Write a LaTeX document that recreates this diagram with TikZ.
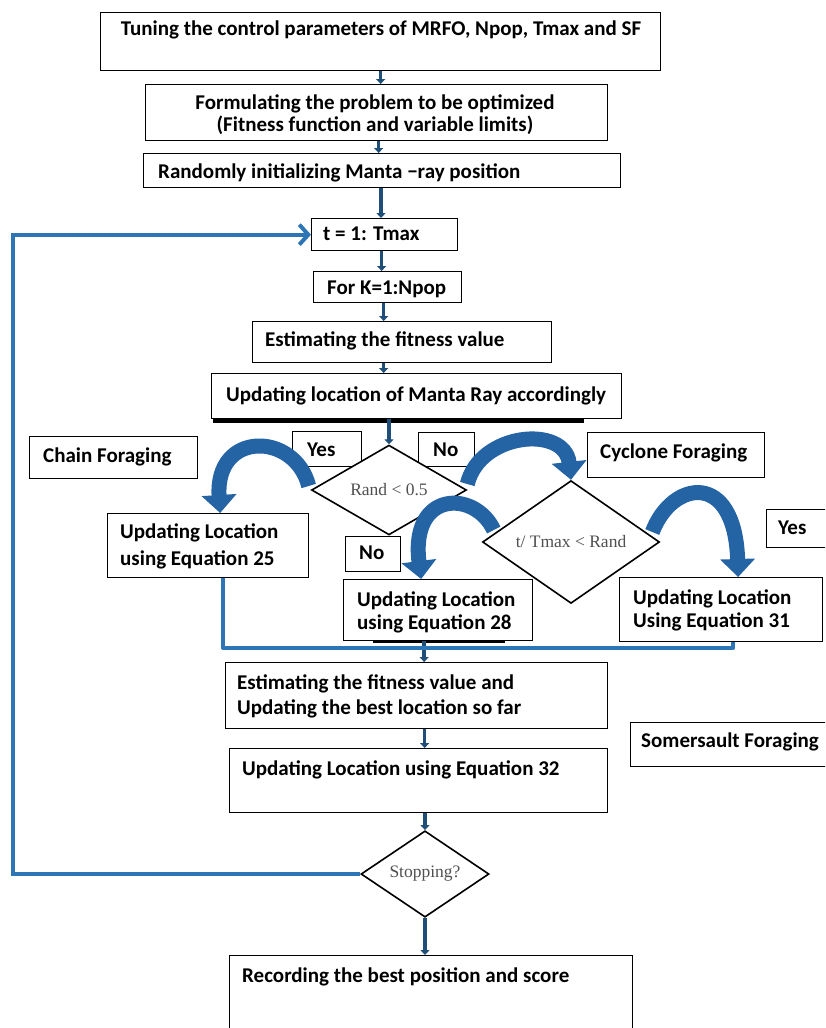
\documentclass[tikz,border=0pt]{standalone}
\usepackage{fontspec}
\setmainfont{Carlito}
\newfontfamily\serifx{Liberation Serif}
\usetikzlibrary{shapes.geometric,arrows.meta}
\definecolor{lnblue}{RGB}{46,117,182}
\definecolor{dkblue}{RGB}{31,78,121}
\definecolor{arcblue}{RGB}{36,100,165}
\definecolor{dtext}{RGB}{80,80,80}
\begin{document}
\begin{tikzpicture}[x=1pt,y=-1pt,
  box/.style={draw=black, line width=1.3pt, inner sep=0pt, anchor=north west, fill=white},
  txt/.style={font=\fontsize{21}{25}\selectfont\bfseries, inner sep=0pt, anchor=base west},
  ctxt/.style={txt, anchor=base},
  dia/.style={draw=black, line width=1.6pt, diamond, inner sep=0pt, fill=white,
              font=\fontsize{17.5}{20}\selectfont\serifx, text=dtext},
  conn/.style={draw=dkblue, line width=3.5pt, -{Triangle[width=9pt,length=5pt]}},
  bus/.style={draw=lnblue, line width=4pt},
  arcarrow/.style={draw=arcblue, line width=15pt, -{Triangle[width=34pt,length=18pt]}},
  shadowline/.style={draw=black, line width=4pt}]
\clip (0,0) rectangle (825,1028);
\path[use as bounding box] (0,0) rectangle (825,1028);
\fill[white] (0,0) rectangle (825,1028);

% boxes
\node[box, minimum width=560pt, minimum height=58pt] (b1) at (100,12) {};
\node[box, minimum width=462pt, minimum height=56pt] (b2) at (145,84) {};
\node[box, minimum width=477pt, minimum height=34pt] (b3) at (143,153) {};
\node[box, minimum width=146pt, minimum height=32pt] (bt) at (311,218) {};
\node[box, minimum width=148pt, minimum height=31pt] (bk) at (313,271) {};
\node[box, minimum width=299pt, minimum height=41pt] (be) at (252,321) {};
\draw[shadowline] (213,420.5) -- (584,420.5);
\node[box, minimum width=410pt, minimum height=45pt] (bm) at (211,373) {};
\node[box, minimum width=69pt, minimum height=35pt] (yes1) at (292,431) {};
\node[box, minimum width=56pt, minimum height=34pt] (no1) at (418,432) {};
\node[box, minimum width=168pt, minimum height=42pt] (chain) at (29,436) {};
\node[box, minimum width=177pt, minimum height=45pt] (cyc) at (587,432) {};
\node[box, minimum width=201pt, minimum height=64pt] (e25) at (107,513) {};
\node[box, minimum width=55pt, minimum height=35pt] (no2) at (345,536) {};
\draw[shadowline, line width=3pt] (373,641.5) -- (505,641.5);
\node[box, minimum width=189pt, minimum height=61pt] (e28) at (343,579) {};
\node[box, minimum width=203pt, minimum height=64pt] (e31) at (619,577) {};
\node[box, minimum width=70pt, minimum height=38pt] (yes2) at (766,509) {};
\node[box, minimum width=382pt, minimum height=66pt] (eu) at (225,662) {};
\node[box, minimum width=200pt, minimum height=44pt] (som) at (630,722) {};
\node[box, minimum width=378pt, minimum height=64pt] (e32) at (229,748) {};
\node[box, minimum width=403pt, minimum height=90pt] (rec) at (229,955) {};

% diamonds
\node[dia, minimum width=155pt, minimum height=66pt] (d1) at (389,490) {Rand < 0.5};
\node[dia, minimum width=177pt, minimum height=66pt] (d2) at (571,542) {t/ Tmax < Rand};
\node[dia, minimum width=128pt, minimum height=85pt] (d3) at (425,874) {Stopping?};

% texts
\node[ctxt] (t1) at (381,35) {Tuning the control parameters of  MRFO, Npop, Tmax and SF};
\node[ctxt] (t2a) at (375,109) {Formulating the problem to be optimized};
\node[ctxt] (t2b) at (375,131) {(Fitness function and variable limits)};
\node[txt] (t3) at (158,178) {Randomly initializing Manta −ray position};
\node[txt] (tt) at (323,240) {t = 1: Tmax};
\node[txt] (tk) at (327,294) {For K=1:Npop};
\node[txt] (te) at (265,346) {Estimating the fitness value};
\node[txt] (tm) at (226,401) {Updating location of Manta Ray accordingly};
\node[txt] (tyes1) at (307,456) {Yes};
\node[txt] (tno1) at (433,456) {No};
\node[txt] (tchain) at (43,462) {Chain Foraging};
\node[txt] (tcyc) at (600,458) {Cyclone Foraging};
\node[txt] (t25a) at (120,538) {Updating Location};
\node[txt] (t25b) at (120,565) {using Equation 25};
\node[txt] (tno2) at (359,559) {No};
\node[txt] (t28a) at (357,606) {Updating Location};
\node[txt] (t28b) at (357,629) {using Equation 28};
\node[txt] (t31a) at (633,604) {Updating Location};
\node[txt] (t31b) at (633,627) {Using Equation 31};
\node[txt] (tyes2) at (778,534) {Yes};
\node[txt] (tua) at (237,689) {Estimating the fitness value and};
\node[txt] (tub) at (237,714) {Updating the best location so far};
\node[txt] (tsom) at (641,747) {Somersault Foraging};
\node[txt] (t32) at (242,775) {Updating Location using Equation 32};
\node[txt] (trec) at (242,982) {Recording the best position and score};

% straight connectors
\coordinate (cx) at (381,0);
\draw[conn] (b1.south) -- (b1.south |- b2.north);
\draw[conn] ([xshift=2pt]b2.south) -- ([xshift=2pt]b2.south |- b3.north);
\draw[conn] (b3.south -| cx) -- (bt.north -| cx);
\draw[conn] ([xshift=-3pt]bt.south) -- ([xshift=-3pt]bt.south |- bk.north);
\draw[conn] ([xshift=-4pt]bk.south) -- ([xshift=-4pt]bk.south |- be.north);
\draw[conn] ([xshift=-18.5pt]be.south) -- ([xshift=-18.5pt]be.south |- bm.north);
\draw[conn] (d1.north |- bm.south) -- (d1.north);
\draw[conn] ([xshift=-14pt]e28.south) -- ([xshift=-14pt]e28.south |- eu.north);
\draw[conn] ([xshift=6pt]e32.north |- eu.south) -- ([xshift=6pt]e32.north);
\draw[conn] (d3.north |- e32.south) -- (d3.north);
\draw[conn] (d3.south) -- (d3.south |- rec.north);

% collector bus
\coordinate (col) at (0,648);
\draw[bus, line join=round] ([xshift=15pt]e25.south) -- ([xshift=15pt]e25.south |- col)
   -- ([xshift=12pt]e31.south |- col) -- ([xshift=12pt]e31.south);

% loop back
\coordinate (lp) at (13,0);
\draw[bus, line join=miter, -{Straight Barb[length=9pt,width=20pt,line width=4pt]}]
   (d3.west) -- (d3.west -| lp) |- (bt.west);

% curved block arrows
\draw[arcarrow] ([shift={(-2,-4)}]d1.west) .. controls (295,432) and (215,430) .. ([xshift=12pt]e25.north);
\draw[arcarrow] ([shift={(0,-6)}]d1.east) .. controls (480,432) and (565,425) .. (d2.north);
\draw[arcarrow] ([shift={(12,-12)}]d2.west) .. controls (475,490) and (410,490) .. ([xshift=-17pt]e28.north);
\draw[arcarrow] ([shift={(-8,-10)}]d2.east) .. controls (672,480) and (735,470) .. ([xshift=17pt]e31.north);
\end{tikzpicture}
\end{document}
